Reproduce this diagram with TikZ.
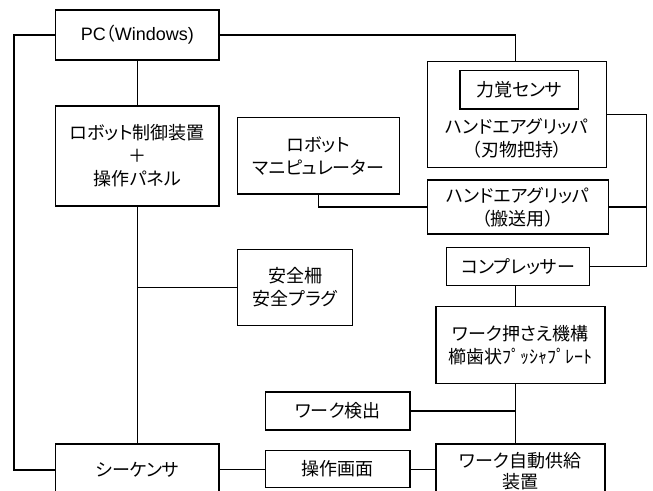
\documentclass[tikz,border=0pt]{standalone}
\usepackage{fontspec}
\setmainfont{Noto Sans CJK JP}[RawFeature=+palt]
\newfontfamily\latfont{Liberation Sans}
\begin{document}
\begin{tikzpicture}[x=1pt,y=-1pt,
  box/.style={draw,line width=1.3pt,inner sep=0pt,align=center,
    font=\fontsize{18}{23}\selectfont},
  wire/.style={line width=1.3pt}]
\useasboundingbox (0,0) rectangle (653,490);
\clip (0,0) rectangle (653,490);
\fill[white] (0,0) rectangle (653,490);
% boxes
\node[box,minimum width=163.3pt,minimum height=50pt] (pc) at (137.3,35) {{\latfont PC}（{\latfont Windows)}};
\node[box,minimum width=163.3pt,minimum height=100pt] (rc) at (137.3,156) {ロボット制御装置\\＋\\操作パネル};
\node[box,minimum width=161.6pt,minimum height=76.3pt] (manip) at (318.5,155.8) {ロボット\\マニピュレーター};
\node[box,minimum width=179.4pt,minimum height=106pt] (hg) at (517,114.7) {};
\node[box,minimum width=118.7pt,minimum height=38.3pt] (fs) at (519.3,89.8) {力覚センサ};
\node[align=center,inner sep=0pt,font=\fontsize{18}{23}\selectfont] (hgtext) at (517,138.5) {ハンドエアグリッパ\\（刃物把持）};
\node[box,minimum width=181pt,minimum height=54pt] (tg) at (517.8,207) {ハンドエアグリッパ\\（搬送用）};
\node[box,minimum width=142.6pt,minimum height=38.4pt] (comp) at (518,266.5) {コンプレッサー};
\node[box,minimum width=114.6pt,minimum height=76.4pt] (safe) at (295,287.5) {安全柵\\安全プラグ};
\node[box,minimum width=169pt,minimum height=76.6pt] (press) at (520.5,345) {ワーク押さえ機構\\櫛歯状ﾌﾟｯｼｬﾌﾟﾚｰﾄ};
\node[box,minimum width=144.3pt,minimum height=38pt] (det) at (337.8,411) {ワーク検出};
\node[box,minimum width=144.3pt,minimum height=36.6pt] (op) at (337.8,469) {操作画面};
\node[box,minimum width=169pt,minimum height=54pt,font=\fontsize{18}{21}\selectfont] (feed) at (520.5,471) {ワーク自動供給\\装置};
\node[box,minimum width=163.3pt,minimum height=52pt] (seq) at (137.3,470) {シーケンサ};
% helper coordinates
\coordinate (vx) at (515.7,0);
\coordinate (lx) at (14,0);
\coordinate (rx) at (646.7,0);
\coordinate (hy) at (0,469.5);
% connectors
\draw[wire] (pc.west) -- (lx |- pc.west) -- (lx |- seq.west) -- (seq.west);
\draw[wire] (pc.south) -- (rc.north);
\draw[wire] (pc.east) -- (vx |- pc.east) -- (vx |- hg.north);
\draw[wire] (rc.south) -- (seq.north);
\draw[wire] (safe.west) -- (rc.south |- safe.west);
\draw[wire] (manip.south) |- (tg.west);
\draw[wire] (hg.east) -- (rx |- hg.east) -- (rx |- comp.east) -- (comp.east);
\draw[wire] (tg.east) -- (rx |- tg.east);
\draw[wire] (vx |- comp.south) -- (vx |- press.north);
\draw[wire] (vx |- press.south) -- (vx |- feed.north);
\draw[wire] (det.east) -- (vx |- det.east);
\draw[wire] (seq.east |- hy) -- (op.west |- hy);
\draw[wire] (op.east |- hy) -- (feed.west |- hy);
\end{tikzpicture}
\end{document}
